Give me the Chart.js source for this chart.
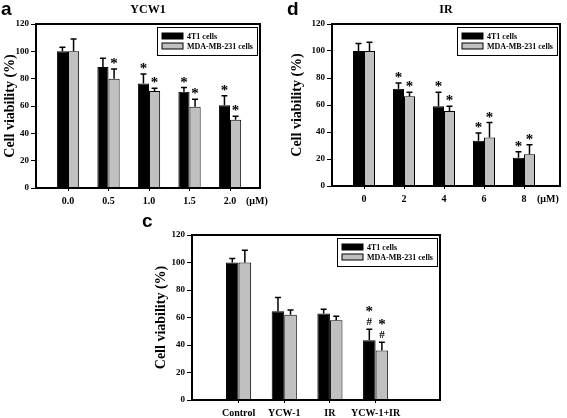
<!DOCTYPE html>
<html>
<head>
<meta charset="utf-8">
<script src="https://cdn.jsdelivr.net/npm/chart.js@4.4.0/dist/chart.umd.min.js"></script>
<style>
body { margin: 0; background: #fff; width: 567px; height: 418px; position: relative; overflow: hidden; }
canvas { position: absolute; }
#chartA { left: 0; top: 0; }
#chartD { left: 285px; top: 0; }
#chartC { left: 140px; top: 200px; }
</style>
</head>
<body>
<canvas id="chartA" width="285" height="210"></canvas>
<canvas id="chartD" width="282" height="210"></canvas>
<canvas id="chartC" width="310" height="218"></canvas>
<script>
// panel a - YCW1
const ycwDose = ['0.0', '0.5', '1.0', '1.5', '2.0'];
const ycw4t1 = [100, 88.5, 76.5, 70.5, 60.5];
const ycw4t1Err = [3, 6.5, 7, 3, 7];
const ycw4t1Star = ['', '', '*', '*', '*'];
const ycwMda = [100, 80, 71, 59.5, 50];
const ycwMdaErr = [9, 7, 2, 5.5, 2.5];
const ycwMdaStar = ['', '*', '*', '*', '*'];

// panel d - IR
const irDose = ['0', '2', '4', '6', '8'];
const ir4t1 = [100, 72, 59, 33.5, 21];
const ir4t1Err = [5.5, 4.3, 10.5, 5.7, 4.3];
const ir4t1Star = ['', '*', '*', '*', '*'];
const irMda = [100, 66.5, 55.5, 36, 23.5];
const irMdaErr = [6.5, 3, 3.5, 11, 7];
const irMdaStar = ['', '*', '*', '*', '*'];

// panel c - combination
const comboGroup = ['Control', 'YCW-1', 'IR', 'YCW-1+IR'];
const combo4t1 = [100, 64.5, 63, 43.5];
const combo4t1Err = [3, 10, 3, 8];
const combo4t1Star = ['', '', '', '*'];
const combo4t1Hash = ['', '', '', '#'];
const comboMda = [100, 62, 58, 36];
const comboMdaErr = [9, 3.5, 3, 6];
const comboMdaStar = ['', '', '', '*'];
const comboMdaHash = ['', '', '', '#'];

const seriesNames = ['4T1 cells', 'MDA-MB-231 cells'];
const yTicks = [0, 20, 40, 60, 80, 100, 120];

const serif = "'Liberation Serif', 'Times New Roman', serif";
const sans = "'Liberation Sans', Arial, sans-serif";

const errorPlugin = {
    id: 'errorPlugin',
    afterDatasetsDraw(chart) {
        let ctx = chart.ctx;
        let y = chart.scales.y;
        ctx.save();
        ctx.strokeStyle = '#000';
        ctx.fillStyle = '#000';
        ctx.lineWidth = 1.5;
        chart.data.datasets.forEach((ds, i) => {
            let meta = chart.getDatasetMeta(i);
            meta.data.forEach((bar, j) => {
                let top = y.getPixelForValue(ds.data[j].y + ds.err[j]);
                ctx.beginPath();
                ctx.moveTo(bar.x, bar.y);
                ctx.lineTo(bar.x, top);
                ctx.moveTo(bar.x - 3, top);
                ctx.lineTo(bar.x + 3, top);
                ctx.stroke();
                let lift = 0;
                if (ds.hash && ds.hash[j]) {
                    ctx.font = 'bold 11px ' + serif;
                    ctx.textAlign = 'center';
                    ctx.textBaseline = 'alphabetic';
                    ctx.fillText(ds.hash[j], bar.x, top - 4);
                    lift = 12;
                }
                if (ds.star && ds.star[j]) {
                    ctx.font = 'bold 15px ' + serif;
                    ctx.textAlign = 'center';
                    ctx.textBaseline = 'alphabetic';
                    ctx.fillText(ds.star[j], bar.x, top - 1 - lift);
                }
            });
        });
        ctx.restore();
    }
};

const framePlugin = {
    id: 'framePlugin',
    afterDraw(chart, args, opts) {
        let ctx = chart.ctx;
        let a = chart.chartArea;
        ctx.save();
        ctx.strokeStyle = '#000';
        ctx.lineWidth = 2;
        ctx.strokeRect(a.left, a.top, a.right - a.left, a.bottom - a.top);

        // legend box
        let bw = 100, bh = 28;
        let bx = a.right - 3 - bw, by = a.top + 3;
        ctx.lineWidth = 1;
        ctx.strokeRect(bx + 0.5, by + 0.5, bw, bh);
        ctx.font = 'bold 8px ' + serif;
        ctx.textAlign = 'left';
        ctx.textBaseline = 'middle';
        chart.data.datasets.forEach((ds, i) => {
            let cy = by + 9 + i * 10;
            ctx.fillStyle = ds.backgroundColor;
            ctx.fillRect(bx + 5, cy - 3, 21, 6);
            ctx.strokeStyle = '#000';
            ctx.strokeRect(bx + 5, cy - 3, 21, 6);
            ctx.fillStyle = '#000';
            ctx.fillText(ds.label, bx + 30, cy + 0.5);
        });

        // panel letter, title, unit
        ctx.fillStyle = '#000';
        ctx.font = 'bold 19px ' + sans;
        ctx.textAlign = 'left';
        ctx.textBaseline = 'alphabetic';
        ctx.fillText(opts.letter, opts.letterX, opts.letterY);
        if (opts.title) {
            ctx.font = 'bold 12px ' + serif;
            ctx.textAlign = 'center';
            ctx.textBaseline = 'middle';
            ctx.fillText(opts.title, (a.left + a.right) / 2, 10);
        }
        if (opts.unit) {
            let x = chart.scales.x;
            ctx.font = 'bold 10px ' + serif;
            ctx.textAlign = 'left';
            ctx.textBaseline = 'middle';
            ctx.fillText(opts.unit, x.getPixelForValue(4) + opts.unitGap, a.bottom + 13);
        }
        ctx.restore();
    }
};

function makeData(labels, s1, e1, st1, s2, e2, st2, h1, h2) {
    return {
        datasets: [{
            label: seriesNames[0],
            data: s1.map((v, i) => ({ x: i, y: v })),
            err: e1,
            star: st1,
            hash: h1,
            backgroundColor: '#000000',
            borderColor: '#000000',
            borderWidth: 1
        }, {
            label: seriesNames[1],
            data: s2.map((v, i) => ({ x: i, y: v })),
            err: e2,
            star: st2,
            hash: h2,
            backgroundColor: '#c0c0c0',
            borderColor: '#000000',
            borderWidth: 1
        }]
    };
}

function makeOptions(p) {
    return {
        responsive: false,
        animation: false,
        layout: { padding: { top: p.top, right: p.right, left: 0, bottom: 0 } },
        datasets: { bar: { categoryPercentage: 0.55, barPercentage: 1, grouped: true } },
        plugins: {
            legend: { display: false },
            tooltip: { enabled: false },
            framePlugin: p.text
        },
        scales: {
            x: {
                type: 'linear',
                min: p.xMin,
                max: p.xMax,
                offset: false,
                afterBuildTicks: s => { s.ticks = p.labels.map((l, i) => ({ value: i })); },
                afterFit: s => { s.height = p.height - p.bottom; },
                ticks: {
                    callback: v => p.labels[v],
                    autoSkip: false,
                    maxRotation: 0,
                    color: '#000',
                    padding: 4,
                    font: { family: serif, size: 10, weight: 'bold' }
                },
                grid: { drawOnChartArea: false, offset: false, tickLength: 3, color: '#000' },
                border: { color: '#000', width: 2 }
            },
            y: {
                min: 0,
                max: 120,
                afterBuildTicks: s => { s.ticks = yTicks.map(v => ({ value: v })); },
                afterFit: s => { s.width = p.left; },
                ticks: {
                    color: '#000',
                    padding: 2,
                    font: { family: serif, size: 9, weight: 'bold' }
                },
                grid: { drawOnChartArea: false, tickLength: 5, color: '#000' },
                border: { color: '#000', width: 2 },
                title: {
                    display: true,
                    text: 'Cell viability (%)',
                    color: '#000',
                    padding: { top: p.titlePad, bottom: 0 },
                    font: { family: serif, size: 14, weight: 'bold' }
                }
            }
        }
    };
}

function showYcw() {
    let ctx = document.getElementById('chartA');
    new Chart(ctx, {
        type: 'bar',
        data: makeData(ycwDose, ycw4t1, ycw4t1Err, ycw4t1Star, ycwMda, ycwMdaErr, ycwMdaStar),
        options: makeOptions({
            labels: ycwDose, xMin: -0.79, xMax: 4.74,
            left: 36, top: 24, right: 25, bottom: 188, height: 210, titlePad: 2,
            text: { letter: 'a', letterX: 1, letterY: 15, title: 'YCW1', unit: '(\u03bcM)', unitGap: 16 }
        }),
        plugins: [errorPlugin, framePlugin]
    });
}

function showIr() {
    let ctx = document.getElementById('chartD');
    new Chart(ctx, {
        type: 'bar',
        data: makeData(irDose, ir4t1, ir4t1Err, ir4t1Star, irMda, irMdaErr, irMdaStar),
        options: makeOptions({
            labels: irDose, xMin: -0.8, xMax: 4.9,
            left: 47, top: 24, right: 7, bottom: 186, height: 210, titlePad: 4,
            text: { letter: 'd', letterX: 2, letterY: 15, title: 'IR', unit: '(\u03bcM)', unitGap: 13 }
        }),
        plugins: [errorPlugin, framePlugin]
    });
}

function showCombo() {
    let ctx = document.getElementById('chartC');
    new Chart(ctx, {
        type: 'bar',
        data: makeData(comboGroup, combo4t1, combo4t1Err, combo4t1Star, comboMda, comboMdaErr, comboMdaStar, combo4t1Hash, comboMdaHash),
        options: makeOptions({
            labels: comboGroup, xMin: -1.02, xMax: 4.41,
            left: 52, top: 35, right: 10, bottom: 200, height: 218, titlePad: 13,
            text: { letter: 'c', letterX: 2, letterY: 27 }
        }),
        plugins: [errorPlugin, framePlugin]
    });
}

showYcw();
showIr();
showCombo();
</script>
</body>
</html>
